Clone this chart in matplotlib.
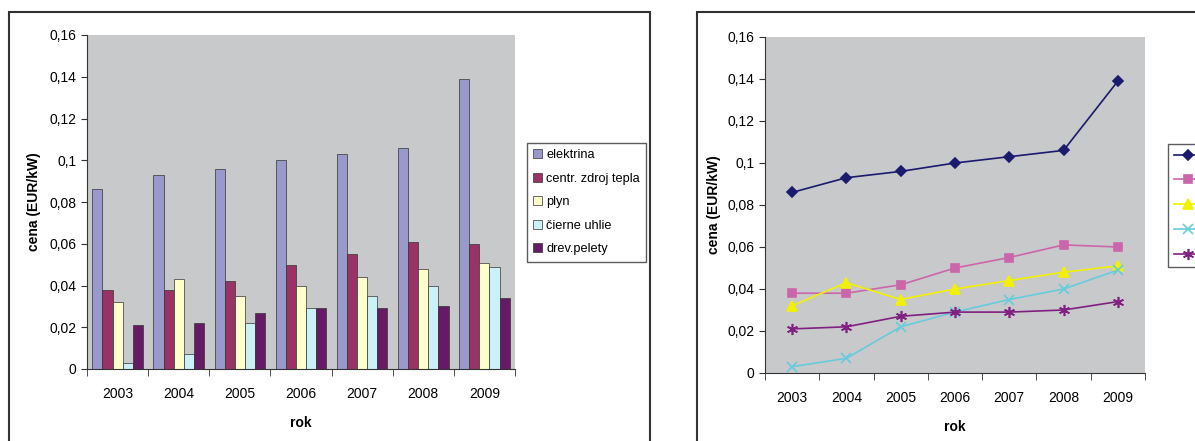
import numpy as np
import matplotlib
matplotlib.use("Agg")
import matplotlib.pyplot as plt
from matplotlib.patches import Rectangle

plt.rcParams["font.family"] = ["Liberation Sans", "DejaVu Sans"]

years = ["2003", "2004", "2005", "2006", "2007", "2008", "2009"]
series = ["elektrina", "centr. zdroj tepla", "plyn", "čierne uhlie", "drev.pelety"]
elektrina = [0.086, 0.093, 0.096, 0.100, 0.103, 0.106, 0.139]
centr = [0.038, 0.038, 0.042, 0.050, 0.055, 0.061, 0.060]
plyn = [0.032, 0.043, 0.035, 0.040, 0.044, 0.048, 0.051]
uhlie = [0.003, 0.007, 0.022, 0.029, 0.035, 0.040, 0.049]
pelety = [0.021, 0.022, 0.027, 0.029, 0.029, 0.030, 0.034]
values = [elektrina, centr, plyn, uhlie, pelety]

yticks = [0, 0.02, 0.04, 0.06, 0.08, 0.1, 0.12, 0.14, 0.16]
ytick_labels = ["0", "0,02", "0,04", "0,06", "0,08", "0,1", "0,12", "0,14", "0,16"]

bar_colors = ["#9999CC", "#993366", "#FFFFCC", "#CCF0F8", "#661A66"]
line_colors = ["#1A1A6E", "#CC66AA", "#F2F200", "#66CCDD", "#802080"]
markers = ["D", "s", "^", "x", (6, 2, 0)]
msizes = [5, 6, 7, 7, 8]

W, H = 1195, 441
fig = plt.figure(figsize=(W / 100, H / 100), dpi=100)


def px(x0, y0, x1, y1):
    return [x0 / W, 1 - y1 / H, (x1 - x0) / W, (y1 - y0) / H]


# panel frames
for x0, x1 in [(9, 650), (697, 1205)]:
    fig.patches.append(Rectangle((x0 / W, 1 - 450 / H), (x1 - x0) / W, (450 - 12) / H,
                                 transform=fig.transFigure, fill=False,
                                 edgecolor="#333333", linewidth=1.5))


def style_axes(ax, ylpad):
    ax.set_facecolor("#C8C9CB")
    ax.set_xlim(-0.5, len(years) - 0.5)
    ax.set_ylim(0, 0.16)
    ax.set_yticks(yticks)
    ax.set_yticklabels(ytick_labels, fontsize=10)
    ax.set_xticks(np.arange(len(years)))
    ax.set_xticklabels(years, fontsize=10)
    ax.set_xticks(np.arange(len(years) + 1) - 0.5, minor=True)
    ax.tick_params(axis="x", which="major", length=0, pad=13)
    ax.tick_params(axis="x", which="minor", length=5, direction="out", color="#333333")
    ax.tick_params(axis="y", length=4, direction="out", color="#333333")
    for s in ["top", "right"]:
        ax.spines[s].set_visible(False)
    for s in ["left", "bottom"]:
        ax.spines[s].set_color("#333333")
    ax.set_xlabel("rok", fontsize=10, fontweight="bold", labelpad=11)
    ax.set_ylabel("cena (EUR/kW)", fontsize=10, fontweight="bold", labelpad=ylpad)


# bar chart
ax1 = fig.add_axes(px(87, 35, 515, 369))
style_axes(ax1, 6)
x = np.arange(len(years))
bw = 0.165
for i, (name, vals) in enumerate(zip(series, values)):
    ax1.bar(x + (i - 2) * bw, vals, width=bw, color=bar_colors[i],
            edgecolor="#333333", linewidth=0.5, label=name)
ax1.legend(loc="upper left", bbox_to_anchor=(527 / W, 1 - 143 / H),
           bbox_transform=fig.transFigure, fontsize=9.2, frameon=True,
           fancybox=False, edgecolor="#333333", handlelength=0.7,
           handleheight=0.7, handletextpad=0.3, labelspacing=0.9,
           borderpad=0.5, borderaxespad=0)

# line chart
ax2 = fig.add_axes(px(765, 37, 1145, 373))
style_axes(ax2, 5)
for i, (name, vals) in enumerate(zip(series, values)):
    ax2.plot(x, vals, color=line_colors[i], marker=markers[i], markersize=msizes[i],
             linewidth=1.2, label=name, markeredgewidth=1.2)
ax2.legend(loc="upper left", bbox_to_anchor=(1168 / W, 1 - 144 / H),
           bbox_transform=fig.transFigure, fontsize=9.5, frameon=True,
           fancybox=False, edgecolor="#333333", handlelength=2.2,
           handletextpad=0.3, labelspacing=0.95, borderpad=0.45,
           borderaxespad=0)

fig.savefig("out.png", dpi=100)
